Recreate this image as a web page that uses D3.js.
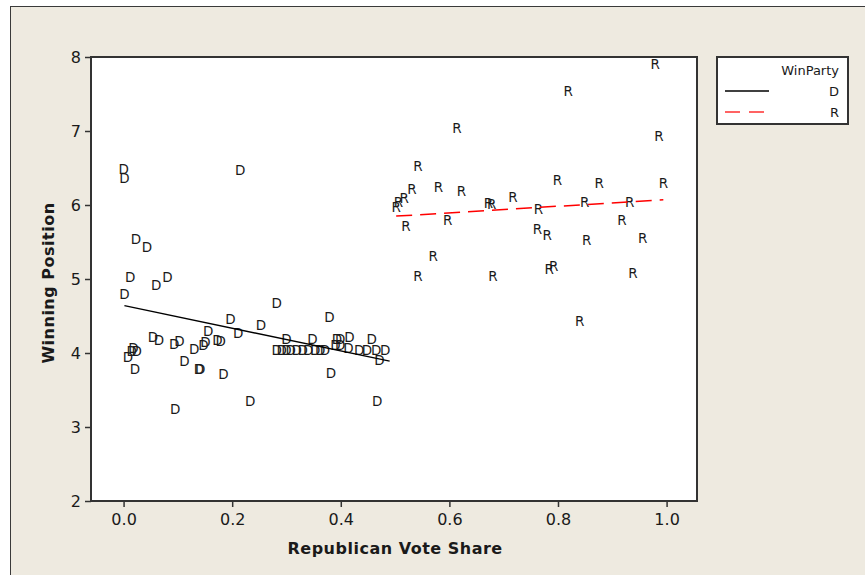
<!DOCTYPE html>
<html>
<head>
<meta charset="utf-8">
<script src="https://cdn.jsdelivr.net/npm/d3@7/dist/d3.min.js"></script>
<style>
  html, body { margin: 0; padding: 0; background: #ffffff; }
  svg { display: block; }
  text { font-family: "DejaVu Sans", Verdana, sans-serif; fill: #1a1a1a; }
</style>
</head>
<body>
<svg id="chart" width="865" height="575"></svg>
<script>
// Democratic winners: [Republican vote share, winning position]
const dPoints = [
  [0.000, 6.49], [0.0015, 6.36], [0.215, 6.47], [0.023, 5.54], [0.043, 5.43],
  [0.012, 5.03], [0.060, 4.92], [0.081, 5.03], [0.0015, 4.79], [0.282, 4.67],
  [0.197, 4.46], [0.253, 4.37], [0.156, 4.30], [0.211, 4.27], [0.054, 4.22],
  [0.065, 4.17], [0.103, 4.16], [0.093, 4.12], [0.151, 4.15], [0.147, 4.11],
  [0.130, 4.05], [0.173, 4.17], [0.179, 4.16], [0.018, 4.06], [0.024, 4.02],
  [0.015, 4.02], [0.008, 3.94], [0.112, 3.89], [0.021, 3.78], [0.139, 3.78],
  [0.141, 3.78], [0.184, 3.72], [0.233, 3.35], [0.095, 3.24], [0.379, 4.49],
  [0.382, 3.73], [0.467, 3.35], [0.471, 3.91],
  [0.282, 4.04], [0.291, 4.04], [0.300, 4.04], [0.308, 4.04], [0.319, 4.04],
  [0.330, 4.04], [0.340, 4.04], [0.353, 4.04], [0.362, 4.04], [0.371, 4.04],
  [0.414, 4.07], [0.434, 4.04], [0.448, 4.04], [0.465, 4.04], [0.482, 4.04],
  [0.300, 4.19], [0.348, 4.19], [0.393, 4.19], [0.399, 4.19], [0.416, 4.22],
  [0.457, 4.19], [0.390, 4.11], [0.399, 4.11]
];

// Republican winners: [Republican vote share, winning position]
const rPoints = [
  [0.542, 6.52], [0.531, 6.21], [0.517, 6.09], [0.506, 6.04], [0.502, 5.97],
  [0.580, 6.24], [0.622, 6.19], [0.672, 6.03], [0.678, 6.01], [0.717, 6.11],
  [0.764, 5.95], [0.520, 5.71], [0.597, 5.80], [0.762, 5.68], [0.570, 5.31],
  [0.542, 5.04], [0.680, 5.04], [0.799, 6.33], [0.876, 6.29], [0.994, 6.29],
  [0.849, 6.04], [0.932, 6.04], [0.918, 5.79], [0.780, 5.59], [0.853, 5.52],
  [0.956, 5.55], [0.784, 5.14], [0.792, 5.18], [0.938, 5.08], [0.840, 4.43],
  [0.979, 7.91], [0.819, 7.54], [0.986, 6.93], [0.614, 7.04]
];

// Fitted lines per party (endpoints)
const dFit = [[0.0015, 4.64], [0.49, 3.89]];
const rFit = [[0.502, 5.85], [0.994, 6.07]];

const xTicks = [0.0, 0.2, 0.4, 0.6, 0.8, 1.0];
const yTicks = [2, 3, 4, 5, 6, 7, 8];
const legendTitle = "WinParty";
const legendItems = ["D", "R"];

const svg = d3.select("#chart");

// Panel background
svg.append("rect")
  .attr("x", 10.5).attr("y", 6.5)
  .attr("width", 870).attr("height", 590)
  .attr("fill", "#eeeae0")
  .attr("stroke", "#3a3a3a").attr("stroke-width", 1);

const plot = { left: 91, right: 697, top: 57, bottom: 501 };

const x = d3.scaleLinear().domain([-0.06, 1.056]).range([plot.left, plot.right]);
const y = d3.scaleLinear().domain([2, 8]).range([plot.bottom, plot.top]);

// Data region
svg.append("rect")
  .attr("x", plot.left).attr("y", plot.top)
  .attr("width", plot.right - plot.left).attr("height", plot.bottom - plot.top)
  .attr("fill", "#ffffff");

// Axes
const yAxis = svg.append("g")
  .attr("transform", `translate(${plot.left},0)`)
  .call(d3.axisLeft(y).tickValues(yTicks).tickFormat(d3.format("d")).tickSize(6).tickPadding(4));
const xAxis = svg.append("g")
  .attr("transform", `translate(0,${plot.bottom})`)
  .call(d3.axisBottom(x).tickValues(xTicks).tickFormat(d3.format(".1f")).tickSize(6).tickPadding(7));

[xAxis, yAxis].forEach(g => {
  g.select(".domain").remove();
  g.selectAll(".tick line").attr("stroke", "#333").attr("stroke-width", 1.5);
  g.selectAll(".tick text")
    .style("font-family", "'DejaVu Sans', Verdana, sans-serif")
    .style("font-size", "16px").attr("fill", "#1a1a1a");
});

// Point labels
const pointGroup = svg.append("g")
  .style("font-size", "13.5px")
  .attr("text-anchor", "middle");
pointGroup.selectAll("text.d")
  .data(dPoints).join("text").attr("class", "d")
  .attr("x", d => x(d[0])).attr("y", d => y(d[1]))
  .attr("dy", "0.36em")
  .text("D");
pointGroup.selectAll("text.r")
  .data(rPoints).join("text").attr("class", "r")
  .attr("x", d => x(d[0])).attr("y", d => y(d[1]))
  .attr("dy", "0.36em")
  .text("R");

// Fit lines
const line = d3.line().x(d => x(d[0])).y(d => y(d[1]));
svg.append("path").datum(dFit).attr("d", line)
  .attr("fill", "none").attr("stroke", "#000").attr("stroke-width", 1.5);
svg.append("path").datum(rFit).attr("d", line)
  .attr("fill", "none").attr("stroke", "#ff0000").attr("stroke-width", 1.5)
  .attr("stroke-dasharray", "16,8");

// Plot frame
svg.append("rect")
  .attr("x", plot.left).attr("y", plot.top)
  .attr("width", plot.right - plot.left).attr("height", plot.bottom - plot.top)
  .attr("fill", "none").attr("stroke", "#333").attr("stroke-width", 2);

// Axis titles
svg.append("text")
  .attr("x", (x(0) + x(1)) / 2).attr("y", 554)
  .attr("text-anchor", "middle")
  .style("font-size", "16px").style("font-weight", "bold")
  .style("letter-spacing", "0.5px")
  .text("Republican Vote Share");
svg.append("text")
  .attr("transform", `translate(54,${(plot.top + plot.bottom) / 2 + 4}) rotate(-90)`)
  .attr("text-anchor", "middle")
  .style("font-size", "16px").style("font-weight", "bold")
  .style("letter-spacing", "0.5px")
  .text("Winning Position");

// Legend
const legend = svg.append("g");
legend.append("rect")
  .attr("x", 717).attr("y", 57).attr("width", 131).attr("height", 67)
  .attr("fill", "#ffffff").attr("stroke", "#333").attr("stroke-width", 2);
legend.append("text")
  .attr("x", 839).attr("y", 75).attr("text-anchor", "end")
  .style("font-size", "13px").text(legendTitle);
const legendStyles = [
  { stroke: "#000", dash: null },
  { stroke: "#ff3030", dash: "15,9" }
];
legendItems.forEach((name, i) => {
  const ly = 91 + i * 21;
  legend.append("line")
    .attr("x1", 725).attr("x2", 769).attr("y1", ly).attr("y2", ly)
    .attr("stroke", legendStyles[i].stroke).attr("stroke-width", 1.5)
    .attr("stroke-dasharray", legendStyles[i].dash);
  legend.append("text")
    .attr("x", 839).attr("y", ly).attr("dy", "0.36em").attr("text-anchor", "end")
    .style("font-size", "13px").text(name);
});
</script>
</body>
</html>
